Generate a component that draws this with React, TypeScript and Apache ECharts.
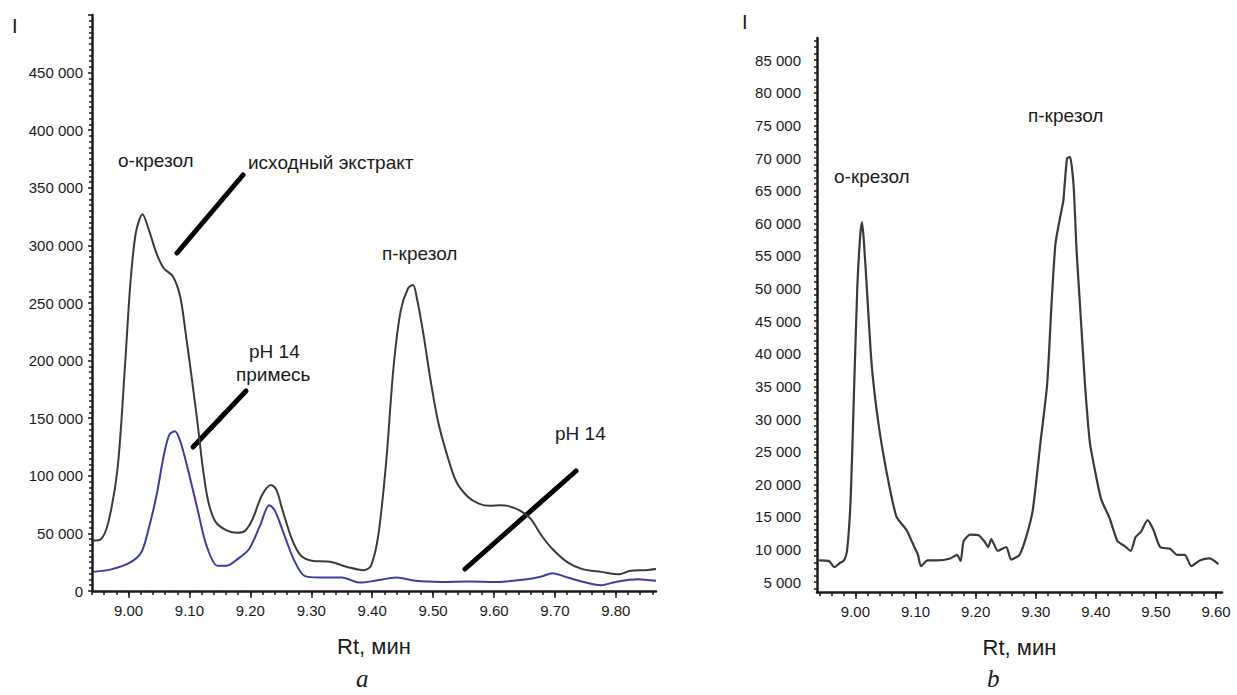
import React, { useEffect, useRef } from "react";
import * as echarts from "echarts";

// ---------- Chart a: data ----------
const extractT = [8.942, 8.954, 8.967, 8.982, 8.994, 9.003, 9.012, 9.023, 9.033, 9.046, 9.058, 9.073, 9.085, 9.094, 9.103, 9.113, 9.122, 9.131, 9.143, 9.161, 9.179, 9.192, 9.204, 9.219, 9.234, 9.243, 9.252, 9.268, 9.283, 9.301, 9.331, 9.362, 9.386, 9.398, 9.41, 9.423, 9.435, 9.447, 9.459, 9.467, 9.474, 9.484, 9.496, 9.508, 9.523, 9.538, 9.557, 9.575, 9.593, 9.611, 9.623, 9.642, 9.66, 9.678, 9.696, 9.721, 9.745, 9.776, 9.806, 9.824, 9.849, 9.866];
const extractI = [43800, 44700, 60000, 106600, 194000, 267000, 311000, 327000, 314000, 293000, 280000, 273000, 255000, 223000, 188000, 147000, 106600, 77400, 60000, 52600, 50500, 52600, 62800, 83200, 92000, 87600, 71500, 45300, 30700, 26300, 25400, 20400, 18100, 21900, 48200, 112000, 194000, 243800, 262800, 265700, 252600, 223400, 182500, 147500, 118000, 95000, 81800, 75900, 73900, 74500, 73900, 70000, 62800, 48200, 36500, 24800, 19000, 16600, 14600, 17500, 18100, 19000];

const ph14T = [8.942, 8.973, 9.003, 9.021, 9.033, 9.046, 9.058, 9.067, 9.076, 9.085, 9.097, 9.113, 9.128, 9.146, 9.161, 9.179, 9.198, 9.216, 9.231, 9.24, 9.252, 9.271, 9.289, 9.313, 9.35, 9.38, 9.404, 9.44, 9.471, 9.514, 9.557, 9.605, 9.654, 9.678, 9.696, 9.721, 9.751, 9.776, 9.8, 9.836, 9.866];
const ph14I = [16600, 19000, 24800, 33600, 54000, 83200, 118000, 135800, 138700, 130000, 106600, 71500, 39400, 21900, 21900, 27700, 36500, 56900, 74500, 70000, 54000, 27700, 13100, 11700, 11700, 7300, 8800, 11700, 8800, 7900, 8200, 7900, 10200, 12600, 15500, 11700, 7300, 5000, 7900, 10200, 8800];

const xLabelsA = [9.0, 9.1, 9.2, 9.3, 9.4, 9.5, 9.6, 9.7, 9.8];

// ---------- Chart b: data ----------
const cleanT = [8.939, 8.956, 8.965, 8.973, 8.981, 8.986, 8.992, 8.997, 9.003, 9.008, 9.011, 9.014, 9.019, 9.027, 9.038, 9.052, 9.068, 9.085, 9.095, 9.104, 9.109, 9.12, 9.136, 9.158, 9.169, 9.175, 9.18, 9.191, 9.205, 9.215, 9.221, 9.226, 9.237, 9.251, 9.259, 9.273, 9.284, 9.295, 9.308, 9.319, 9.327, 9.333, 9.341, 9.346, 9.352, 9.357, 9.363, 9.368, 9.374, 9.382, 9.39, 9.398, 9.409, 9.423, 9.436, 9.447, 9.458, 9.466, 9.475, 9.486, 9.496, 9.507, 9.524, 9.535, 9.548, 9.559, 9.573, 9.589, 9.604];
const cleanI = [8340, 8230, 7290, 7870, 8340, 9800, 17700, 32400, 50000, 58200, 60200, 57300, 50000, 38300, 29500, 21800, 15100, 13000, 11000, 9200, 7460, 8340, 8340, 8640, 9200, 8230, 11300, 12300, 12200, 11200, 10400, 11600, 9800, 10400, 8460, 9200, 11900, 16000, 26500, 35300, 48800, 57000, 61100, 63500, 69900, 70200, 65800, 55800, 47000, 35300, 26500, 22400, 17700, 14800, 11300, 10600, 9800, 11900, 12700, 14500, 13000, 10400, 10100, 9200, 9200, 7460, 8340, 8640, 7760];

const xLabelsB = [9.0, 9.1, 9.2, 9.3, 9.4, 9.5, 9.6];
const yLabelsB = [5000, 10000, 15000, 20000, 25000, 30000, 35000, 40000, 45000, 50000, 55000, 60000, 65000, 70000, 75000, 80000, 85000];

const FONT = "'Liberation Sans', Arial, sans-serif";
const INK = "#1a1a1a";

function steps(a: number, b: number, s: number): number[] {
  const out: number[] = [];
  const n = Math.round((b - a) / s);
  for (let i = 0; i <= n; i++) out.push(Math.round((a + i * s) * 1000) / 1000);
  return out;
}
const fmtThousands = (v: number) => String(Math.round(v)).replace(/\B(?=(\d{3})+(?!\d))/g, " ");
const zip = (t: number[], v: number[]) => t.map((x, i) => [x, v[i]]);

export default function App() {
  const ref = useRef<HTMLDivElement>(null);
  useEffect(() => {
    if (!ref.current) return;
    const chart = echarts.init(ref.current, undefined, { renderer: "svg" });
    const axisLine = { show: true, lineStyle: { color: INK, width: 2.5 } };
    const labelStyle = { color: INK, fontFamily: FONT, fontSize: 15 };

    const option: any = {
      animation: false,
      backgroundColor: "#ffffff",
      grid: [
        { left: 92, top: 15, width: 564, height: 576 },
        { left: 817, top: 38, width: 405, height: 554 },
      ],
      xAxis: [
        {
          type: "value", gridIndex: 0, min: 8.94, max: 9.866, position: "bottom",
          axisLine, splitLine: { show: false },
          axisTick: { show: true, customValues: steps(8.94, 9.86, 0.02), length: 4, lineStyle: { color: INK, width: 1.5 } },
          axisLabel: { ...labelStyle, customValues: xLabelsA, margin: 12, formatter: (v: number) => v.toFixed(2) },
          name: "Rt, мин", nameLocation: "middle", nameGap: 44,
          nameTextStyle: { color: INK, fontFamily: FONT, fontSize: 22 },
        },
        {
          type: "value", gridIndex: 0, min: 8.94, max: 9.866, position: "bottom",
          axisLine: { show: false }, splitLine: { show: false }, axisLabel: { show: false },
          axisTick: { show: true, customValues: xLabelsA, length: 7, lineStyle: { color: INK, width: 1.5 } },
        },
        {
          type: "value", gridIndex: 1, min: 8.936, max: 9.61, position: "bottom",
          axisLine, splitLine: { show: false },
          axisTick: { show: true, customValues: steps(8.94, 9.6, 0.02), length: 4, lineStyle: { color: INK, width: 1.5 } },
          axisLabel: { ...labelStyle, customValues: xLabelsB, margin: 12, formatter: (v: number) => v.toFixed(2) },
          name: "Rt, мин", nameLocation: "middle", nameGap: 44,
          nameTextStyle: { color: INK, fontFamily: FONT, fontSize: 22 },
        },
        {
          type: "value", gridIndex: 1, min: 8.936, max: 9.61, position: "bottom",
          axisLine: { show: false }, splitLine: { show: false }, axisLabel: { show: false },
          axisTick: { show: true, customValues: xLabelsB, length: 7, lineStyle: { color: INK, width: 1.5 } },
        },
      ],
      yAxis: [
        {
          type: "value", gridIndex: 0, min: 0, max: 500000, interval: 50000,
          axisLine, splitLine: { show: false },
          axisTick: { show: true, length: 4, lineStyle: { color: INK, width: 1.5 } },
          minorTick: { show: true, splitNumber: 10, length: 3, lineStyle: { color: INK, width: 1.5 } },
          axisLabel: { ...labelStyle, margin: 9, formatter: (v: number) => (v >= 500000 ? "" : fmtThousands(v)) },
        },
        {
          type: "value", gridIndex: 1, min: 3500, max: 88400,
          axisLine, splitLine: { show: false },
          axisTick: { show: true, customValues: steps(4000, 88000, 1000), length: 3, lineStyle: { color: INK, width: 1.5 } },
          axisLabel: { ...labelStyle, customValues: yLabelsB, margin: 16, formatter: (v: number) => fmtThousands(v) },
        },
      ],
      series: [
        {
          type: "line", name: "исходный экстракт", xAxisIndex: 0, yAxisIndex: 0,
          data: zip(extractT, extractI), showSymbol: false, smooth: 0.3,
          lineStyle: { color: "#3a3a3a", width: 2 },
        },
        {
          type: "line", name: "pH 14", xAxisIndex: 0, yAxisIndex: 0,
          data: zip(ph14T, ph14I), showSymbol: false, smooth: 0.3,
          lineStyle: { color: "#3d3d9e", width: 2 },
        },
        {
          type: "line", name: "pH 14 (b)", xAxisIndex: 2, yAxisIndex: 1,
          data: zip(cleanT, cleanI), showSymbol: false, smooth: 0.2,
          lineStyle: { color: "#3a3a3a", width: 2.2 },
        },
      ],
      graphic: [
        { type: "text", left: 12, top: 16, style: { text: "I", fill: INK, font: `20px ${FONT}` } },
        { type: "text", left: 742, top: 12, style: { text: "I", fill: INK, font: `20px ${FONT}` } },
        { type: "text", left: 118, top: 151, style: { text: "о-крезол", fill: INK, font: `19px ${FONT}` } },
        { type: "text", left: 248, top: 153, style: { text: "исходный экстракт", fill: INK, font: `19px ${FONT}` } },
        { type: "text", left: 382, top: 244, style: { text: "п-крезол", fill: INK, font: `19px ${FONT}` } },
        { type: "text", left: 249, top: 342, style: { text: "pH 14", fill: INK, font: `19px ${FONT}` } },
        { type: "text", left: 236, top: 365, style: { text: "примесь", fill: INK, font: `19px ${FONT}` } },
        { type: "text", left: 555, top: 424, style: { text: "pH 14", fill: INK, font: `19px ${FONT}` } },
        { type: "text", left: 834, top: 167, style: { text: "о-крезол", fill: INK, font: `19px ${FONT}` } },
        { type: "text", left: 1028, top: 106, style: { text: "п-крезол", fill: INK, font: `19px ${FONT}` } },
        { type: "line", shape: { x1: 177, y1: 253, x2: 243, y2: 175 }, style: { stroke: "#000", lineWidth: 5, lineCap: "round" } },
        { type: "line", shape: { x1: 193, y1: 447, x2: 246, y2: 391 }, style: { stroke: "#000", lineWidth: 5, lineCap: "round" } },
        { type: "line", shape: { x1: 465, y1: 569, x2: 576, y2: 471 }, style: { stroke: "#000", lineWidth: 5, lineCap: "round" } },
        { type: "text", left: 356, top: 666, style: { text: "a", fill: INK, font: `italic 25px 'Liberation Serif', 'DejaVu Serif', serif` } },
        { type: "text", left: 987, top: 666, style: { text: "b", fill: INK, font: `italic 25px 'Liberation Serif', 'DejaVu Serif', serif` } },
      ],
    };
    chart.setOption(option);
    return () => chart.dispose();
  }, []);
  return <div ref={ref} style={{ position: "fixed", left: 0, top: 0, width: 1237, height: 695, background: "#fff" }} />;
}
